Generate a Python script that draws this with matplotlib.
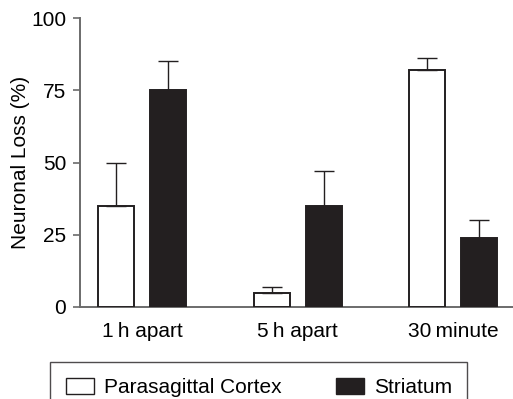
import numpy as np
import matplotlib
matplotlib.use("Agg")
import matplotlib.pyplot as plt
from matplotlib.patches import Patch

plt.rcParams['font.family'] = ['Liberation Sans', 'DejaVu Sans']

groups = ["1\u2009h apart", "5\u2009h apart", "30\u2009minute"]
cortex = [35, 5, 82]
cortex_err = [15, 2, 4]
striatum = [75, 35, 24]
striatum_err = [10, 12, 6]
yticks = [0, 25, 50, 75, 100]

dark = "#231f20"
axis_grey = "#6b6b6b"
fs = 15

fig = plt.figure(figsize=(5.13, 3.99), dpi=100)
ax = fig.add_axes([80 / 513, 1 - 307 / 399, 433 / 513, 289 / 399])

x = np.arange(len(groups))
w = 0.232
off = 0.167
err_kw = dict(ecolor=dark, elinewidth=1.0, capsize=7, capthick=1.0)
ax.bar(x - off, cortex, w, color="white", edgecolor=dark, linewidth=1.4,
       yerr=[np.zeros(3), cortex_err], error_kw=err_kw, zorder=3)
ax.bar(x + off, striatum, w, color=dark, edgecolor=dark, linewidth=1.4,
       yerr=[np.zeros(3), striatum_err], error_kw=err_kw, zorder=3)

ax.set_xlim(-0.398, 2.383)
ax.set_ylim(0, 100)
ax.set_yticks(yticks)
ax.set_xticks(x)
ax.set_xticklabels(groups, fontsize=fs)
ax.tick_params(axis='x', length=0, pad=11)
ax.tick_params(axis='y', length=5, width=1.2, color=axis_grey, pad=5, labelsize=fs)
for s in ['top', 'right']:
    ax.spines[s].set_visible(False)
for s in ['left', 'bottom']:
    ax.spines[s].set_color(axis_grey)
    ax.spines[s].set_linewidth(1.4)

# y label placed by hand so it stays inside the figure
fig.text(21 / 513, 1 - 162 / 399, "Neuronal Loss (%)", fontsize=fs,
         rotation=90, ha="center", va="center")

handles = [Patch(facecolor="white", edgecolor=dark, linewidth=1.0),
           Patch(facecolor=dark, edgecolor=dark)]
leg = fig.legend(handles, ["Parasagittal Cortex", "Striatum"], ncol=2,
                 loc="upper left", bbox_to_anchor=(50 / 513, 1 - 362 / 399),
                 fontsize=fs, frameon=True, fancybox=False,
                 handlelength=1.35, handleheight=0.82, handletextpad=0.48,
                 columnspacing=2.6, borderpad=0.75, borderaxespad=0)
leg.get_frame().set_edgecolor(dark)
leg.get_frame().set_linewidth(1.0)

fig.savefig("out.png", dpi=100)
